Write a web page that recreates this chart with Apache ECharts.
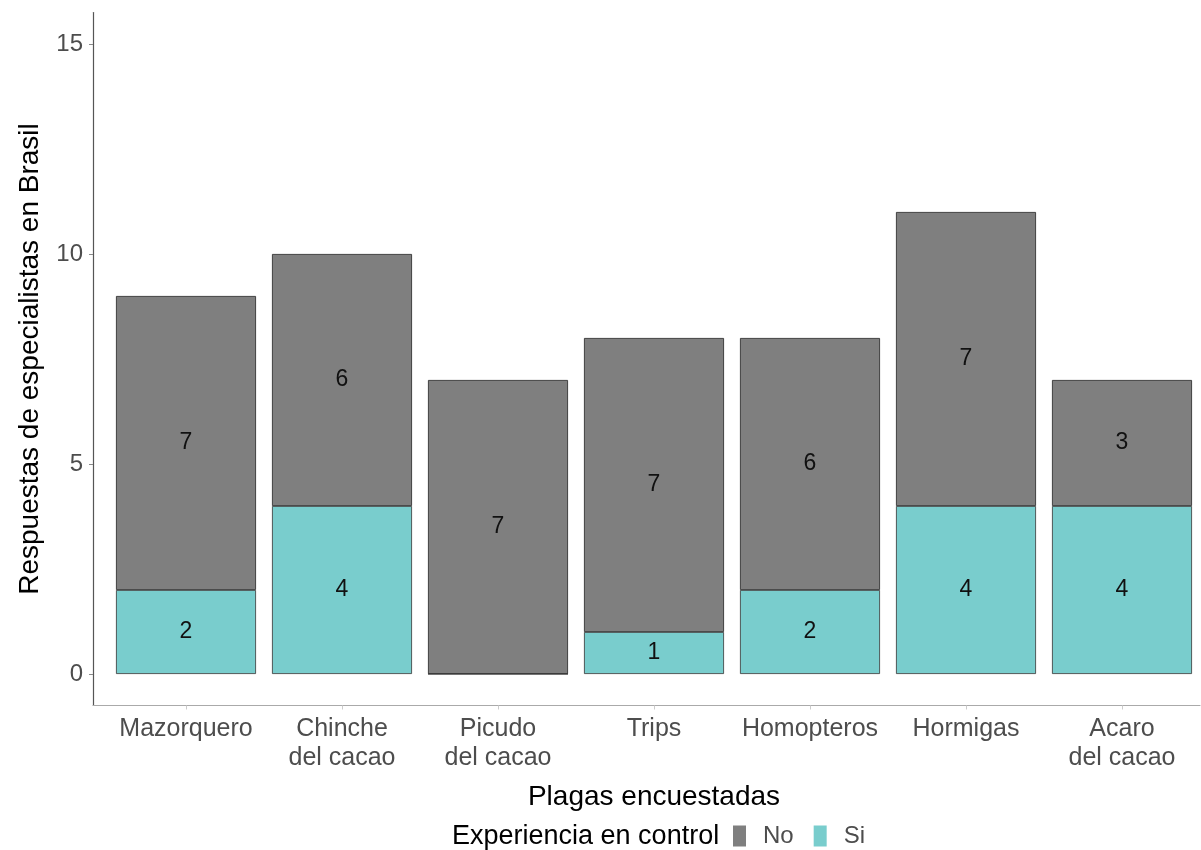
<!DOCTYPE html>
<html>
<head>
<meta charset="utf-8">
<script src="https://cdn.jsdelivr.net/npm/echarts@6/dist/echarts.min.js"></script>
<style>
html,body{margin:0;padding:0;background:#fff;}
#chart{width:1201px;height:850px;}
</style>
</head>
<body>
<div id="chart"></div>
<script>
const categories = ['Mazorquero', 'Chinche\ndel cacao', 'Picudo\ndel cacao', 'Trips', 'Homopteros', 'Hormigas', 'Acaro\ndel cacao'];
const siValues = [2, 4, 0, 1, 2, 4, 4];
const noValues = [7, 6, 7, 7, 6, 7, 3];
const yTicks = [0, 5, 10, 15];

const FONT = 'Liberation Sans, Arial, sans-serif';
const chart = echarts.init(document.getElementById('chart'));

const barLabel = {
  show: true,
  position: 'inside',
  fontFamily: FONT,
  fontSize: 23,
  color: '#111',
  formatter: p => (p.value > 0 ? String(p.value) : '')
};

const Y_MIN = -0.75, Y_MAX = 15.75;
const gridTop = 12.5, gridBottom = 144.5;

chart.setOption({
  animation: false,
  backgroundColor: '#fff',
  textStyle: { fontFamily: FONT },
  title: {
    text: 'Experiencia en control',
    left: 447,
    top: 816,
    textStyle: { fontFamily: FONT, fontSize: 27, fontWeight: 'normal', color: '#000', lineHeight: 32 }
  },
  legend: {
    data: ['No', 'Si'],
    left: 733,
    top: 824,
    padding: 0,
    icon: 'rect',
    itemWidth: 13,
    itemHeight: 21,
    itemGap: 20,
    itemStyle: { borderWidth: 0 },
    textStyle: { fontFamily: FONT, fontSize: 24, color: '#4d4d4d', padding: [0, 0, 0, 12] }
  },
  grid: [
    // panel frame (axis lines, y scale)
    { left: 93, right: 1, top: gridTop, bottom: gridBottom, outerBoundsMode: 'none', containLabel: false },
    // bar area: 0.6-category padding on the left of the panel
    { left: 108, right: 1, top: gridTop, bottom: gridBottom, outerBoundsMode: 'none', containLabel: false }
  ],
  xAxis: [
    {
      gridIndex: 0,
      type: 'value',
      min: 0,
      max: 1,
      axisLine: { show: true, onZero: false, lineStyle: { color: '#aaaaaa', width: 1.2 } },
      axisTick: { show: false },
      axisLabel: { show: false },
      splitLine: { show: false }
    },
    {
      gridIndex: 1,
      type: 'category',
      data: categories,
      boundaryGap: true,
      name: 'Plagas encuestadas',
      nameLocation: 'middle',
      nameGap: 78,
      nameTextStyle: { fontFamily: FONT, fontSize: 28, color: '#000' },
      axisLine: { show: false, onZero: false },
      axisTick: { show: true, alignWithLabel: true, length: 4, lineStyle: { color: '#cccccc' } },
      axisLabel: { fontFamily: FONT, fontSize: 25, color: '#4d4d4d', margin: 9, lineHeight: 29, interval: 0 },
      splitLine: { show: false }
    }
  ],
  yAxis: [
    {
      gridIndex: 0,
      type: 'value',
      min: Y_MIN,
      max: Y_MAX,
      name: 'Respuestas de especialistas en Brasil',
      nameLocation: 'middle',
      nameGap: 49,
      nameTextStyle: { fontFamily: FONT, fontSize: 28, color: '#000' },
      axisLine: { show: true, onZero: false, lineStyle: { color: '#555555', width: 1.2 } },
      axisTick: { show: true, length: 4, customValues: yTicks, lineStyle: { color: '#888888' } },
      axisLabel: { fontFamily: FONT, fontSize: 24, color: '#4d4d4d', margin: 10, customValues: yTicks },
      splitLine: { show: false }
    },
    {
      gridIndex: 1,
      type: 'value',
      min: Y_MIN,
      max: Y_MAX,
      show: false,
      splitLine: { show: false }
    }
  ],
  series: [
    {
      name: 'Si',
      type: 'bar',
      xAxisIndex: 1,
      yAxisIndex: 1,
      stack: 'total',
      barWidth: 140,
      data: siValues,
      itemStyle: { color: '#79cdcd', borderColor: '#333333', borderWidth: 0.8 },
      label: barLabel
    },
    {
      name: 'No',
      type: 'bar',
      xAxisIndex: 1,
      yAxisIndex: 1,
      stack: 'total',
      barWidth: 140,
      data: noValues,
      itemStyle: { color: '#7f7f7f', borderColor: '#222222', borderWidth: 0.8 },
      label: barLabel
    }
  ]
});
</script>
</body>
</html>
